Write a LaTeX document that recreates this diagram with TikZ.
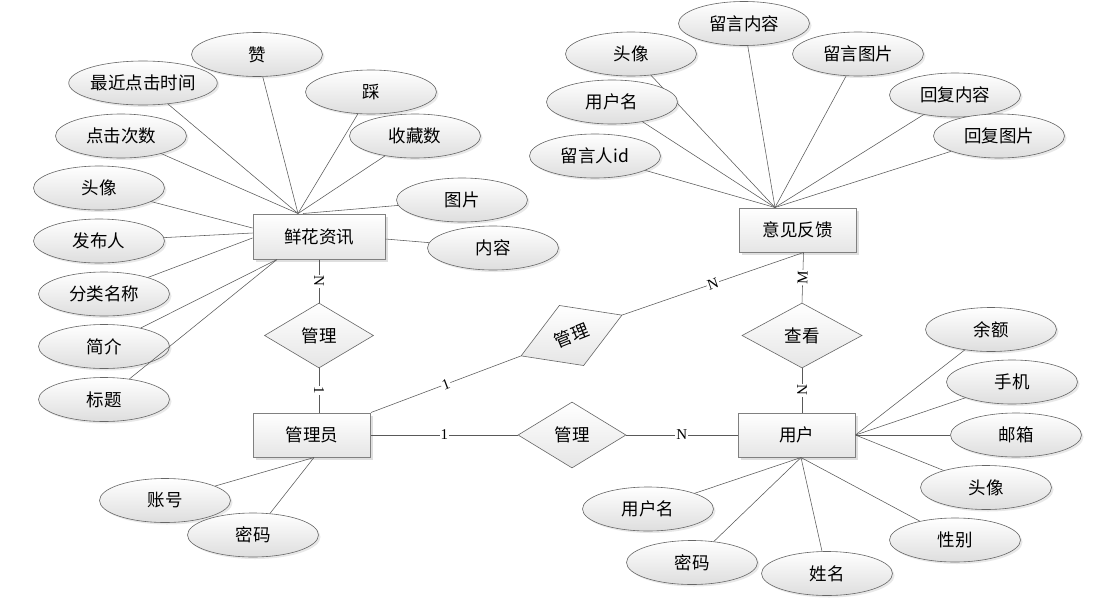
\documentclass[tikz,border=0pt]{standalone}
\usepackage{fontspec}
\setmainfont{Liberation Serif}
\newfontfamily\cjk{Noto Sans CJK SC}
\usetikzlibrary{shapes.geometric,shadows}

\tikzset{
  attr/.style={ellipse, draw=black!60, line width=0.6pt, top color=white, bottom color=black!13,
    drop shadow={shadow xshift=2pt, shadow yshift=-2pt, opacity=0.18},
    minimum width=131pt, minimum height=44pt, inner sep=0pt, font=\cjk\fontsize{17.5}{20}\selectfont},
  entity/.style={rectangle, draw=black!50, line width=1pt, top color=white, bottom color=black!10,
    drop shadow={shadow xshift=2.5pt, shadow yshift=-2.5pt, opacity=0.25},
    minimum width=117pt, minimum height=44pt, inner sep=0pt, font=\cjk\fontsize{17.5}{20}\selectfont},
  rel/.style={diamond, draw=black!60, line width=0.6pt, top color=white, bottom color=black!10,
    minimum width=109pt, minimum height=65pt, inner sep=0pt, font=\cjk\fontsize{17.5}{20}\selectfont},
  lab/.style={fill=white, inner sep=1pt, sloped, font=\fontsize{15}{15}\selectfont},
  link/.style={draw=black!65, line width=0.55pt}
}

\begin{document}
\begin{tikzpicture}[x=1pt, y=-1pt]
  \useasboundingbox[fill=white] (0,0) rectangle (1112,603);

  % entities
  \node[entity, minimum width=132pt, minimum height=45pt] (xh) at (319,236.5) {鲜花资讯};
  \node[entity] (gly) at (312,435) {管理员};
  \node[entity] (yj) at (797.5,230) {意见反馈};
  \node[entity] (yh) at (796.5,435) {用户};

  % relationships
  \node[rel] (gl1) at (319,335.5) {管理};
  \node[rel, rotate=22] (gl2) at (571.5,335.5) {管理};
  \node[rel, minimum width=108pt, minimum height=66pt] (gl3) at (572,435) {管理};
  \node[rel, minimum width=120pt] (ck) at (802,335.5) {查看};

  % attachment points on the entities
  \coordinate (xhT) at ([xshift=-21pt]xh.north);
  \coordinate (xhT2) at ([xshift=-16pt]xh.north);
  \coordinate (xhB) at ([xshift=-42pt]xh.south);
  \coordinate (glyT) at ([xshift=7pt]gly.north);
  \coordinate (glyB) at ([xshift=2pt]gly.south);
  \coordinate (yjT) at ([xshift=-22.5pt]yj.north);
  \coordinate (yjB) at ([xshift=6pt]yj.south);
  \coordinate (yhT) at ([xshift=5.5pt]yh.north);
  \coordinate (yhB) at ([xshift=4.5pt]yh.south);

  % 鲜花资讯 attributes
  \foreach \t/\x/\y/\e [count=\i] in {赞/257/54.5/xhT, 最近点击时间/143/83/xhT, 踩/371/92/xhT,
      点击次数/121/136/xhT, 收藏数/415/136/xhT, 图片/462/200/xhT2,
      简介/104/346.5/xhB, 标题/104/399.5/xhB} {
    \node[attr] (xa\i) at (\x,\y) {\t};
    \draw[link] (xa\i) -- (\e);
  }
  \foreach \t/\x/\y/\s [count=\i] in {头像/99/188/8.5, 发布人/99/241/3.5, 分类名称/104/294/-1.5} {
    \node[attr] (xb\i) at (\x,\y) {\t};
    \draw[link] (xb\i) -- ([yshift=\s pt]xh.west);
  }
  \node[attr] (xc) at (493,248) {内容};
  \draw[link] (xc) -- ([yshift=-2.5pt]xh.east);

  % 管理员 attributes
  \node[attr] (ga1) at (165,500.5) {账号};
  \node[attr] (ga2) at (253,535) {密码};
  \draw[link] (ga1) -- (glyB);
  \draw[link] (ga2) -- (glyB);

  % 意见反馈 attributes
  \foreach \t/\x/\y [count=\i] in {留言内容/744/23.5, 头像/631/54, 留言图片/858/54, 用户名/612/102,
      回复内容/955/95, 留言人id/595/156, 回复图片/999/136} {
    \node[attr] (ya\i) at (\x,\y) {\t};
    \draw[link] (ya\i) -- (yjT);
  }

  % 用户 attributes
  \foreach \t/\x/\y [count=\i] in {余额/991/329.5, 手机/1012/382, 邮箱/1016/435, 头像/986/487.5} {
    \node[attr] (ua\i) at (\x,\y) {\t};
    \draw[link] (ua\i) -- (yh.east);
  }
  \foreach \t/\x/\y [count=\i] in {用户名/648/509, 密码/692/562.5, 姓名/827/573.5, 性别/955/540} {
    \node[attr] (ub\i) at (\x,\y) {\t};
    \draw[link] (ub\i) -- (yhB);
  }

  % relationship lines
  \draw[link] (xh.south) -- node[lab] {N} (gl1.north);
  \draw[link] (gl1.south) -- node[lab] {1} (glyT);
  \draw[link] (gly.north east) -- node[lab] {1} (gl2.west);
  \draw[link] (gl2.east) -- node[lab] {N} (yjB);
  \draw[link] (gly.east) -- node[lab] {1} (gl3.west);
  \draw[link] (gl3.east) -- node[lab] {N} (yh.west);
  \draw[link] (yjB) -- node[lab] {M} (ck.north);
  \draw[link] (ck.south) -- node[lab] {N} (yhT);
\end{tikzpicture}
\end{document}
